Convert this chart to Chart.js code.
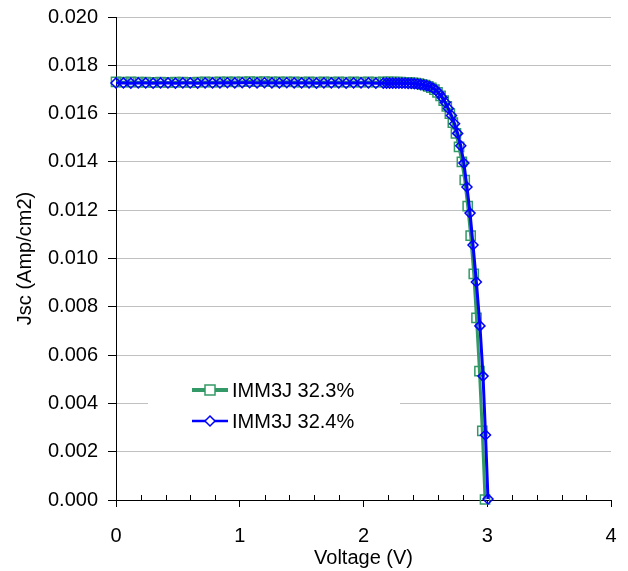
<!DOCTYPE html>
<html>
<head>
<meta charset="utf-8">
<script src="https://cdn.jsdelivr.net/npm/chart.js"></script>
<style>
  body { margin: 0; background: #fff; }
  #wrap { width: 628px; height: 571px; }
</style>
</head>
<body>
<div id="wrap"><canvas id="ivChart" width="628" height="571"></canvas></div>
<script>
// Data (Voltage in V, Jsc in Amp/cm2)
const seriesNames = ['IMM3J 32.3%', 'IMM3J 32.4%'];

const voltsA = [0.00, 0.06, 0.12, 0.18, 0.24, 0.30, 0.36, 0.42, 0.48, 0.54, 0.60, 0.66, 0.72, 0.78, 0.84, 0.90,
  0.96, 1.02, 1.08, 1.14, 1.20, 1.26, 1.32, 1.38, 1.44, 1.50, 1.56, 1.62, 1.68, 1.74, 1.80, 1.86, 1.92, 1.98,
  2.04, 2.10, 2.16, 2.198, 2.223, 2.248, 2.273, 2.298, 2.323, 2.348, 2.373, 2.398, 2.423, 2.448, 2.473, 2.498,
  2.523, 2.548, 2.573, 2.598, 2.623, 2.648, 2.673, 2.698, 2.722, 2.747, 2.772, 2.795, 2.818, 2.842, 2.866,
  2.891, 2.913, 2.937, 2.960, 2.982];
const currentA = [0.01731, 0.01730, 0.01731, 0.01730, 0.01730, 0.01729, 0.01730, 0.01729, 0.01730, 0.01730,
  0.01729, 0.01730, 0.01731, 0.01730, 0.01731, 0.01732, 0.01731, 0.01732, 0.01733, 0.01732, 0.01733, 0.01732,
  0.01731, 0.01732, 0.01731, 0.01730, 0.01731, 0.01730, 0.01731, 0.01730, 0.01731, 0.01730, 0.01731, 0.01730,
  0.01731, 0.01730, 0.01731, 0.01731, 0.01730, 0.01730, 0.01730, 0.01730, 0.01729, 0.01729, 0.01728, 0.01727,
  0.01726, 0.01724, 0.01721, 0.01718, 0.01713, 0.01707, 0.01699, 0.01688, 0.01673, 0.01654, 0.01630, 0.01600,
  0.01563, 0.01518, 0.01462, 0.01400, 0.01325, 0.01217, 0.01095, 0.00936, 0.00754, 0.00534, 0.00286, 0.00002];

const voltsB = [0.00, 0.06, 0.12, 0.18, 0.24, 0.30, 0.36, 0.42, 0.48, 0.54, 0.60, 0.66, 0.72, 0.78, 0.84, 0.90,
  0.96, 1.02, 1.08, 1.14, 1.20, 1.26, 1.32, 1.38, 1.44, 1.50, 1.56, 1.62, 1.68, 1.74, 1.80, 1.86, 1.92, 1.98,
  2.04, 2.10, 2.16, 2.186, 2.211, 2.236, 2.261, 2.286, 2.311, 2.336, 2.361, 2.386, 2.411, 2.436, 2.461, 2.486,
  2.511, 2.536, 2.561, 2.586, 2.611, 2.636, 2.661, 2.686, 2.711, 2.736, 2.761, 2.786, 2.811, 2.836, 2.861,
  2.885, 2.912, 2.941, 2.966, 2.986, 3.006];
const currentB = [0.01727, 0.01727, 0.01726, 0.01727, 0.01727, 0.01726, 0.01727, 0.01727, 0.01726, 0.01727,
  0.01727, 0.01726, 0.01727, 0.01727, 0.01727, 0.01728, 0.01727, 0.01728, 0.01728, 0.01727, 0.01728, 0.01727,
  0.01727, 0.01728, 0.01727, 0.01727, 0.01727, 0.01726, 0.01727, 0.01727, 0.01727, 0.01726, 0.01727, 0.01727,
  0.01727, 0.01726, 0.01726, 0.01726, 0.01726, 0.01726, 0.01726, 0.01726, 0.01726, 0.01726, 0.01725, 0.01725,
  0.01724, 0.01723, 0.01721, 0.01719, 0.01716, 0.01712, 0.01706, 0.01697, 0.01684, 0.01667, 0.01646, 0.01621,
  0.01592, 0.01558, 0.01518, 0.01467, 0.01395, 0.01296, 0.01188, 0.01056, 0.00903, 0.00721, 0.00513, 0.00269,
  0.00004];

const yTicks = [0, 0.002, 0.004, 0.006, 0.008, 0.010, 0.012, 0.014, 0.016, 0.018, 0.020];
const xTicks = [0, 1, 2, 3, 4];

const FONT = '"Liberation Sans", Arial, sans-serif';
const GREEN = '#339966';
const BLUE = '#0000ff';

function toPoints(xs, ys) {
  return xs.map((x, i) => ({ x: x, y: ys[i] }));
}

// minor ticks on the voltage axis + the boxed legend inside the plot
const extras = {
  id: 'extras',
  afterDraw(chart) {
    const ctx = chart.ctx;
    const xs = chart.scales.x;
    const bottom = chart.chartArea.bottom;
    ctx.save();
    ctx.strokeStyle = '#000';
    ctx.lineWidth = 1;
    for (let k = 1; k < 20; k++) {
      if (k % 5 === 0) continue;
      const px = Math.round(xs.getPixelForValue(k * 0.2)) + 0.5;
      ctx.beginPath();
      ctx.moveTo(px, bottom - 5);
      ctx.lineTo(px, bottom);
      ctx.stroke();
    }

    // legend
    ctx.fillStyle = '#fff';
    ctx.fillRect(148, 368, 252, 70);
    const items = [
      { label: seriesNames[0], color: GREEN, width: 4, y: 390, shape: 'rect' },
      { label: seriesNames[1], color: BLUE, width: 2.5, y: 421, shape: 'diamond' }
    ];
    items.forEach(it => {
      ctx.strokeStyle = it.color;
      ctx.lineWidth = it.width;
      ctx.beginPath();
      ctx.moveTo(192, it.y);
      ctx.lineTo(228, it.y);
      ctx.stroke();
      ctx.lineWidth = 1.5;
      ctx.fillStyle = '#fff';
      ctx.beginPath();
      if (it.shape === 'rect') {
        ctx.rect(205, it.y - 5, 10, 10);
      } else {
        ctx.moveTo(210, it.y - 5);
        ctx.lineTo(215, it.y);
        ctx.lineTo(210, it.y + 5);
        ctx.lineTo(205, it.y);
        ctx.closePath();
      }
      ctx.fill();
      ctx.stroke();
      ctx.fillStyle = '#000';
      ctx.font = '20px ' + FONT;
      ctx.textBaseline = 'middle';
      ctx.textAlign = 'left';
      ctx.fillText(it.label, 232, it.y + 1);
    });
    ctx.restore();
  }
};

const ctxIV = document.getElementById('ivChart').getContext('2d');
new Chart(ctxIV, {
  type: 'line',
  data: {
    datasets: [{
      label: seriesNames[0],
      data: toPoints(voltsA, currentA),
      borderColor: GREEN,
      borderWidth: 3,
      pointStyle: 'rect',
      pointRadius: 6.5,
      pointBorderWidth: 1.5,
      pointBorderColor: GREEN,
      pointBackgroundColor: 'rgba(255,255,255,0)',
      tension: 0,
      clip: false,
      order: 2
    }, {
      label: seriesNames[1],
      data: toPoints(voltsB, currentB),
      borderColor: BLUE,
      borderWidth: 3,
      pointStyle: 'rectRot',
      pointRadius: 5,
      pointBorderWidth: 1.5,
      pointBorderColor: BLUE,
      pointBackgroundColor: 'rgba(255,255,255,0)',
      tension: 0,
      clip: false,
      order: 1
    }]
  },
  options: {
    responsive: false,
    animation: false,
    layout: { padding: { top: 17, right: 17, left: 0, bottom: 0 } },
    scales: {
      x: {
        type: 'linear',
        min: 0,
        max: 4,
        afterFit: s => { s.height = 71; s.paddingLeft = 0; s.paddingRight = 0; },
        afterBuildTicks: s => { s.ticks = xTicks.map(v => ({ value: v })); },
        ticks: { font: { size: 20, family: FONT }, color: '#000', padding: 17, maxRotation: 0 },
        grid: { drawOnChartArea: false, drawTicks: true, tickLength: 7, tickColor: '#000' },
        border: { color: '#000', width: 1 },
        title: { display: true, text: 'Voltage (V)', color: '#000', font: { size: 20, family: FONT }, padding: { top: 0, bottom: 1 } }
      },
      y: {
        type: 'linear',
        min: 0,
        max: 0.02,
        afterFit: s => { s.width = 116; s.paddingTop = 0; s.paddingBottom = 0; },
        afterBuildTicks: s => { s.ticks = yTicks.map(v => ({ value: v })); },
        ticks: { font: { size: 20, family: FONT }, color: '#000', padding: 10, callback: v => v.toFixed(3) },
        grid: { color: '#c0c0c0', lineWidth: 1, drawTicks: true, tickLength: 8, tickColor: '#000' },
        border: { color: '#000', width: 1 },
        title: { display: true, text: 'Jsc (Amp/cm2)', color: '#000', font: { size: 20, family: FONT }, padding: { top: 13, bottom: 0 } }
      }
    },
    plugins: {
      legend: { display: false },
      tooltip: { enabled: false }
    }
  },
  plugins: [extras]
});
</script>
</body>
</html>
